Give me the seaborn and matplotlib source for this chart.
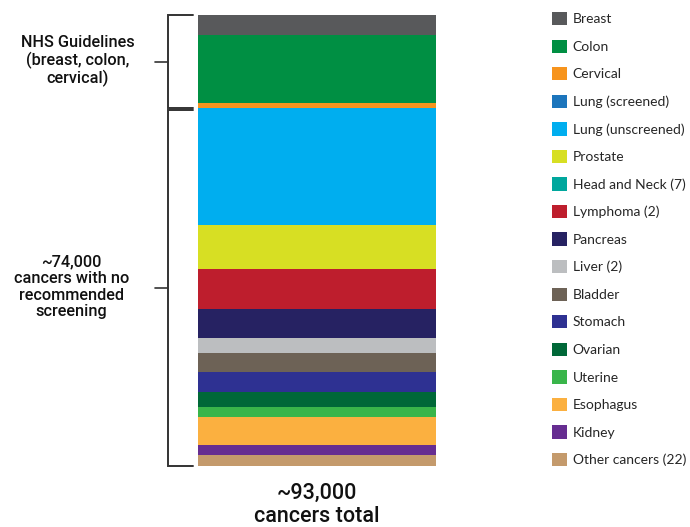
import matplotlib
matplotlib.use("Agg")
import matplotlib.pyplot as plt
import seaborn as sns
import numpy as np
import pandas as pd
from matplotlib.patches import Patch

# ---- data ----
categories = ["Breast", "Colon", "Cervical", "Lung (screened)", "Lung (unscreened)",
              "Prostate", "Head and Neck (7)", "Lymphoma (2)", "Pancreas", "Liver (2)",
              "Bladder", "Stomach", "Ovarian", "Uterine", "Esophagus", "Kidney",
              "Other cancers (22)"]
cases = [4070, 14100, 1030, 0, 24160, 9090, 0, 8130, 6110, 2970,
         4050, 4130, 2970, 2065, 5910, 2000, 2210]
colors = ["#58595b", "#008f43", "#f7941d", "#1c75bc", "#00aeef", "#d7df23", "#00a79d",
          "#be1e2d", "#262262", "#bcbec0", "#6d6256", "#2e3192", "#006838", "#39b54a",
          "#fbb040", "#662d91", "#c49a6c"]
group_labels = ["NHS Guidelines\n(breast, colon,\ncervical)",
                "~74,000\ncancers with no\nrecommended\nscreening"]
total_label = "~93,000\ncancers total"

df = pd.DataFrame({"category": categories, "cases": cases, "color": colors})
df["end"] = df["cases"].cumsum()
df["start"] = df["end"] - df["cases"]
total = df["cases"].sum()
n_guideline = 3
split = df["end"].iloc[n_guideline - 1]

sns.set_style("white")
plt.rcParams["font.family"] = ["Roboto", "DejaVu Sans"]

W, H = 690, 527
fig = plt.figure(figsize=(W / 100, H / 100), dpi=100)
ax = fig.add_axes([197.7 / W, 1 - 465.7 / H, 238 / W, 450.4 / H])

# stacked bar via overlaid cumulative bars (drawn bottom-most first)
for i in range(len(df) - 1, -1, -1):
    row = df.iloc[i]
    if row["cases"] <= 0:
        continue
    sns.barplot(x=[0], y=[row["end"]], color=row["color"], width=1.0,
                linewidth=0, saturation=1, ax=ax, native_scale=True)

ax.set_xlim(-0.5, 0.5)
ax.set_ylim(total, 0)
ax.axis("off")

# brackets
tr = ax.get_yaxis_transform()
bx, tx, mx = -0.126, -0.02, -0.18
lc = "#333333"
for (y0, y1) in [(0, split), (split + 350, total)]:
    ax.plot([tx, bx, bx, tx], [y0, y0, y1, y1], color=lc, lw=1.4,
            transform=tr, clip_on=False, solid_joinstyle="miter")
    ym = (y0 + y1) / 2
    ax.plot([mx, bx], [ym, ym], color=lc, lw=1.2, transform=tr, clip_on=False)

ax.text(-0.503, split / 2 - 150, group_labels[0], transform=tr, ha="center", va="center",
        fontsize=11.7, linespacing=1.12, color="#111111", fontweight="medium")
ax.text(-0.53, (split + total) / 2, group_labels[1], transform=tr, ha="center",
        va="center", fontsize=11.7, linespacing=1.12, color="#111111", fontweight="medium")

fig.text(317 / W, 1 - 505 / H, total_label, ha="center", va="center",
         fontsize=15.5, linespacing=1.12, color="#111111", fontweight="medium")

# legend
handles = [Patch(facecolor=c, edgecolor="none") for c in colors]
fig.legend(handles, categories, loc="upper left",
           bbox_to_anchor=(552 / W, 1 - 12 / H), frameon=False,
           prop={"family": ["Lato", "DejaVu Sans"], "size": 10},
           handlelength=1.1, handleheight=1.1, handletextpad=0.4,
           labelspacing=1.02, borderaxespad=0, borderpad=0)

fig.savefig("out.png", dpi=100)
